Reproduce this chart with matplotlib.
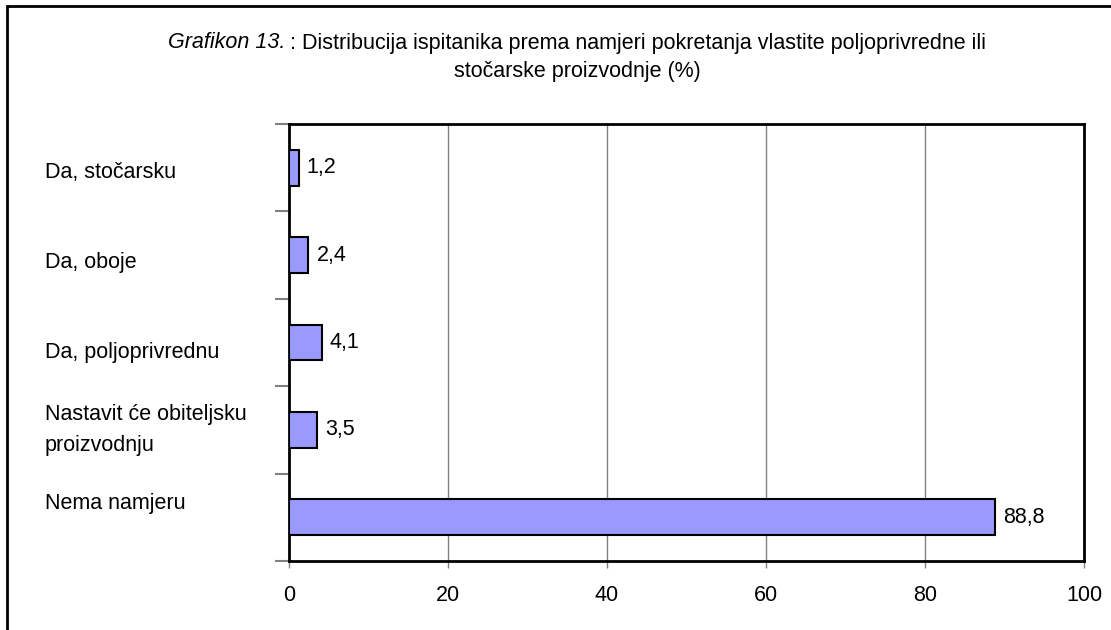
import numpy as np
import matplotlib
matplotlib.use('Agg')
import matplotlib.pyplot as plt
import matplotlib.transforms as mtransforms
from matplotlib.patches import Rectangle

plt.rcParams['font.family'] = ['Liberation Sans', 'DejaVu Sans']

kategorije = ['Da, stočarsku', 'Da, oboje', 'Da, poljoprivrednu',
              'Nastavit će obiteljsku\nproizvodnju', 'Nema namjeru']
postotak = [1.2, 2.4, 4.1, 3.5, 88.8]
oznake = ['1,2', '2,4', '4,1', '3,5', '88,8']
xtikovi = [0, 20, 40, 60, 80, 100]

W, H = 1111, 630
fs = 15.5
fig = plt.figure(figsize=(W/100, H/100), dpi=100)
ax = fig.add_axes([289/W, 1-561/H, (1084-289)/W, (561-124)/H])

y = np.arange(len(kategorije))
ax.barh(y, postotak, height=0.41, color='#9999ff', edgecolor='black', linewidth=1.5, zorder=3)
ax.set_xlim(0, 100)
ax.set_ylim(len(kategorije)-0.5, -0.5)

ax.set_xticks(xtikovi)
ax.set_xticklabels([str(v) for v in xtikovi], fontsize=fs)
ax.tick_params(axis='x', length=5, width=1, color='#808080', pad=12)
ax.set_yticks([])
ax.set_yticks(np.arange(len(kategorije)+1)-0.5, minor=True)
ax.tick_params(axis='y', which='minor', length=10, width=1.5, color='#808080')
ax.grid(axis='x', color='#808080', linewidth=1, zorder=0)
for s in ax.spines.values():
    s.set_linewidth(2)

# kategorije lijevo (poravnato lijevo kao u Excelu)
pomak = [5, 7, 10, 0, -14]
trans = mtransforms.blended_transform_factory(fig.transFigure, ax.transData)
for i, txt in enumerate(kategorije):
    t = trans + mtransforms.ScaledTranslation(0, -pomak[i]/100, fig.dpi_scale_trans)
    ax.text(45/W, i, txt, transform=t, ha='left', va='center', fontsize=fs,
            linespacing=1.6)

for i, (v, lab) in enumerate(zip(postotak, oznake)):
    ax.annotate(lab, (v, i), xytext=(6, 0), textcoords='offset points',
                ha='left', va='center', fontsize=fs)

# naslov (dio u kurzivu)
t1 = fig.text(0, 0, 'Grafikon 13.', style='italic', fontsize=fs)
t2 = fig.text(0, 0, ': Distribucija ispitanika prema namjeri pokretanja vlastite poljoprivredne ili', fontsize=fs)
fig.canvas.draw()
w1 = t1.get_window_extent().width + 4
w2 = t2.get_window_extent().width
x0 = 577 - (w1 + w2)/2
t1.set_position((x0/W, 1-43/H)); t1.set_va('center')
t2.set_position(((x0+w1)/W, 1-43/H)); t2.set_va('center')
fig.text(577/W, 1-72/H, 'stočarske proizvodnje (%)', ha='center', va='center', fontsize=fs)

# okvir grafikona
fig.add_artist(Rectangle((7/W, -0.5), 2, 1.5-6/H, transform=fig.transFigure,
                         fill=False, edgecolor='black', linewidth=2))

fig.savefig('out.png', dpi=100)
